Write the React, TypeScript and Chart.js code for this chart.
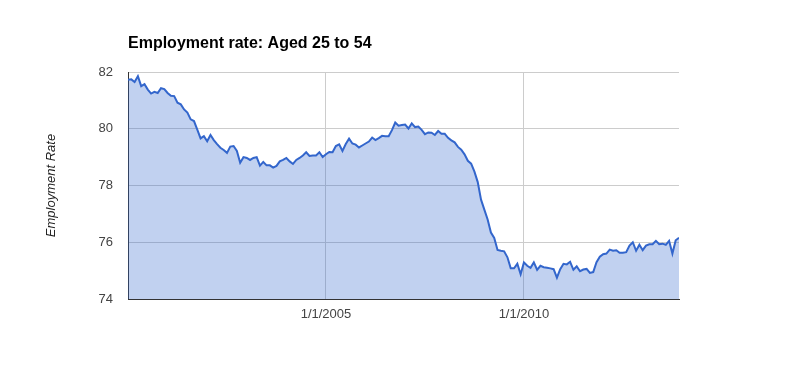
import React, { useEffect, useRef } from "react";
import { Chart, registerables } from "chart.js";

Chart.register(...registerables);

const TITLE = "Employment rate: Aged 25 to 54";
const Y_TITLE = "Employment Rate";
const START_LABEL = "1/1/2000"; // first monthly observation (index 0)

// Monthly employment rate, Jan 2000 .. Dec 2013
const values: number[] = [
  81.73, 81.74, 81.65, 81.85, 81.5, 81.57, 81.38, 81.24, 81.3, 81.26, 81.43, 81.4,
  81.26, 81.16, 81.15, 80.92, 80.86, 80.68, 80.57, 80.33, 80.27, 79.97, 79.66, 79.74,
  79.56, 79.78, 79.6, 79.46, 79.33, 79.25, 79.15, 79.37, 79.39, 79.22, 78.8, 79.0,
  78.97, 78.9, 78.97, 79.0, 78.7, 78.83, 78.71, 78.71, 78.63, 78.69, 78.85, 78.9,
  78.97, 78.85, 78.76, 78.9, 78.97, 79.06, 79.17, 79.04, 79.06, 79.06, 79.17, 79.0,
  79.1, 79.18, 79.17, 79.39, 79.45, 79.22, 79.46, 79.65, 79.48, 79.44, 79.34, 79.41,
  79.48, 79.55, 79.69, 79.6, 79.67, 79.75, 79.74, 79.74, 79.95, 80.22, 80.11, 80.13,
  80.15, 80.01, 80.19, 80.06, 80.08, 79.96, 79.81, 79.87, 79.86, 79.78, 79.92, 79.82,
  79.82, 79.68, 79.59, 79.52, 79.36, 79.26, 79.1, 78.87, 78.77, 78.49, 78.12, 77.5,
  77.15, 76.8, 76.34, 76.15, 75.73, 75.7, 75.68, 75.47, 75.08, 75.08, 75.24, 74.87,
  75.29, 75.17, 75.1, 75.29, 75.03, 75.17, 75.12, 75.1, 75.08, 75.05, 74.75, 75.05,
  75.24, 75.22, 75.31, 75.03, 75.15, 74.98, 75.04, 75.06, 74.92, 74.95, 75.3, 75.49,
  75.58, 75.6, 75.74, 75.7, 75.72, 75.63, 75.63, 75.65, 75.88, 76.0, 75.7, 75.91,
  75.72, 75.88, 75.93, 75.93, 76.05, 75.93, 75.95, 75.91, 76.05, 75.6, 76.07, 76.16,
];

// x tick positions (month index) and their labels
const xTickPositions: number[] = [60, 120];
const xTickLabels: string[] = ["1/1/2005", "1/1/2010"];

const yMin = 74;
const yMax = 82;
const yStep = 2;

const FONT = '"Liberation Sans", Arial, sans-serif';

const titlePlugin = {
  id: "customTitle",
  afterDraw(chart: any) {
    const { ctx, chartArea } = chart;
    ctx.save();
    ctx.font = `bold 16px ${FONT}`;
    ctx.fillStyle = "#000";
    ctx.textAlign = "left";
    ctx.textBaseline = "alphabetic";
    ctx.fillText(TITLE, chartArea.left, 48);
    ctx.restore();
  },
};

export default function App() {
  const ref = useRef<HTMLCanvasElement | null>(null);

  useEffect(() => {
    if (!ref.current) return;
    const chart = new Chart(ref.current, {
      type: "line",
      data: {
        datasets: [
          {
            label: START_LABEL,
            data: values.map((v, i) => ({ x: i, y: v })),
            borderColor: "#3366cc",
            backgroundColor: "rgba(51,102,204,0.3)",
            borderWidth: 2,
            pointRadius: 0,
            tension: 0,
            fill: "start",
          },
        ],
      },
      options: {
        animation: false,
        responsive: false,
        devicePixelRatio: 1,
        layout: { padding: { left: 0, right: 128, top: 72, bottom: 0 } },
        plugins: {
          legend: { display: false },
          tooltip: { enabled: false },
          title: { display: false },
        },
        scales: {
          x: {
            type: "linear",
            min: 0,
            max: values.length - 1,
            afterBuildTicks: (scale: any) => {
              scale.ticks = xTickPositions.map((v) => ({ value: v }));
            },
            afterFit: (scale: any) => {
              scale.height = 72;
            },
            grid: { color: "#cccccc", drawTicks: false, lineWidth: 1 },
            border: { display: true, color: "#333333", width: 1 },
            ticks: {
              autoSkip: false,
              maxRotation: 0,
              padding: 8,
              color: "#444444",
              font: { family: FONT, size: 13 },
              callback: (value: any) => {
                const idx = xTickPositions.indexOf(Number(value));
                return idx >= 0 ? xTickLabels[idx] : "";
              },
            },
          },
          y: {
            min: yMin,
            max: yMax,
            afterFit: (scale: any) => {
              scale.width = 128;
            },
            grid: { color: "#cccccc", drawTicks: false, lineWidth: 1 },
            border: { display: true, color: "#333333", width: 1 },
            ticks: {
              stepSize: yStep,
              padding: 15,
              color: "#444444",
              font: { family: FONT, size: 13 },
            },
            title: {
              display: true,
              text: Y_TITLE,
              color: "#222222",
              font: { family: FONT, size: 13, style: "italic" },
              padding: { top: 44, bottom: 0 },
            },
          },
        },
      },
      plugins: [titlePlugin],
    });
    return () => chart.destroy();
  }, []);

  return (
    <div style={{ position: "absolute", left: 0, top: 0, width: 807, height: 371, background: "#fff" }}>
      <canvas ref={ref} width={807} height={371} />
    </div>
  );
}
